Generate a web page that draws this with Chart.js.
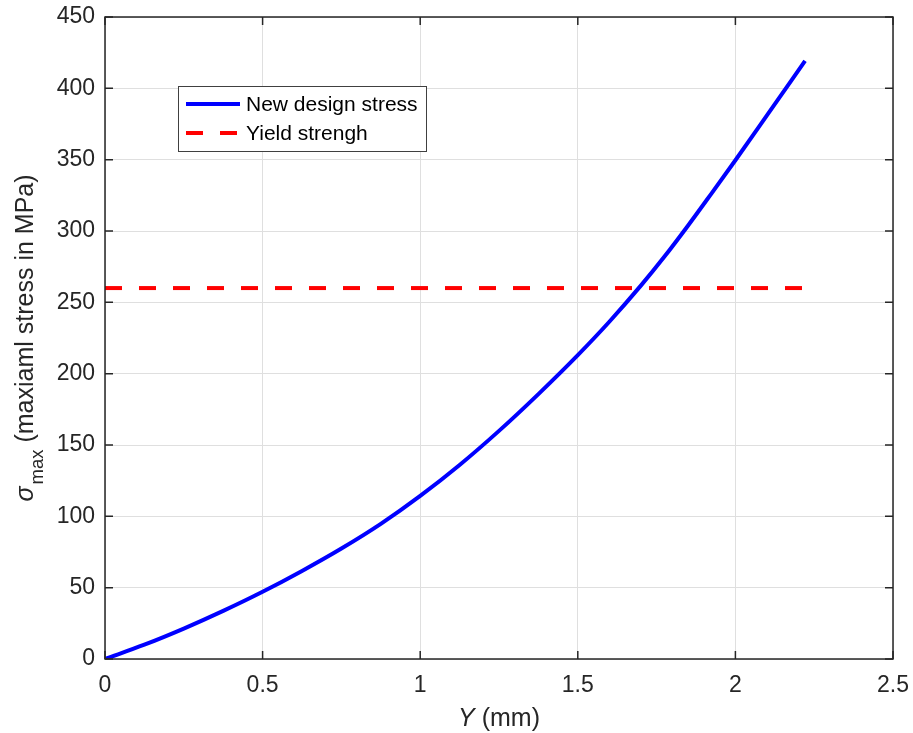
<!DOCTYPE html>
<html>
<head>
<meta charset="utf-8">
<script src="https://cdn.jsdelivr.net/npm/chart.js@4.4.1/dist/chart.umd.min.js"></script>
<style>
  html, body { margin: 0; padding: 0; background: #ffffff; }
  canvas { display: block; }
</style>
</head>
<body>
<canvas id="c" width="913" height="733"></canvas>
<script>
// ---- data ----
const deflectionMm = [0, 0.125, 0.25, 0.375, 0.5, 0.625, 0.75, 0.875, 1.0, 1.125, 1.25, 1.375, 1.5, 1.6, 1.7, 1.775, 1.85, 1.925, 2.0, 2.1, 2.221];
const stressMPa    = [0, 10, 21.3, 33.7, 47.1, 61.7, 77.4, 94.7, 114.3, 136, 159.9, 185.7, 213, 236.4, 261.7, 282.1, 303.9, 326.6, 349.6, 381, 419.2];
const yieldX       = [0, 2.221];
const yieldMPa     = [260, 260];
const seriesLabels = ['New design stress', 'Yield strengh'];
const xTickLabels  = ['0', '0.5', '1', '1.5', '2', '2.5'];
const yTickLabels  = ['0', '50', '100', '150', '200', '250', '300', '350', '400', '450'];

const FONT = "'Liberation Sans', Arial, Helvetica, sans-serif";
const TXT = '#262626';
Chart.defaults.font.family = FONT;
Chart.defaults.color = TXT;

const toXY = (xs, ys) => xs.map((x, i) => ({ x: x, y: ys[i] }));

const decor = {
  id: 'decor',
  afterDatasetsDraw(chart) {
    const ctx = chart.ctx;
    const a = chart.chartArea;
    const xs = chart.scales.x, ys = chart.scales.y;
    ctx.save();
    // frame
    ctx.strokeStyle = TXT;
    ctx.lineWidth = 1.5;
    ctx.strokeRect(a.left, a.top, a.right - a.left, a.bottom - a.top);
    // inward ticks
    const tl = 8;
    ctx.beginPath();
    xs.ticks.forEach(t => {
      const p = xs.getPixelForValue(t.value);
      ctx.moveTo(p, a.bottom); ctx.lineTo(p, a.bottom - tl);
      ctx.moveTo(p, a.top); ctx.lineTo(p, a.top + tl);
    });
    ys.ticks.forEach(t => {
      const p = ys.getPixelForValue(t.value);
      ctx.moveTo(a.left, p); ctx.lineTo(a.left + tl, p);
      ctx.moveTo(a.right, p); ctx.lineTo(a.right - tl, p);
    });
    ctx.stroke();

    // legend
    const lx = a.left + 73, ly = a.top + 69, lw = 248, lh = 65;
    ctx.fillStyle = '#ffffff';
    ctx.fillRect(lx, ly, lw, lh);
    ctx.strokeStyle = '#404040';
    ctx.lineWidth = 1;
    ctx.strokeRect(lx + 0.5, ly + 0.5, lw, lh);
    const ds = chart.data.datasets;
    ds.forEach((d, i) => {
      const ry = ly + 18 + i * 29;
      ctx.strokeStyle = d.borderColor;
      ctx.lineWidth = d.borderWidth;
      ctx.lineCap = 'butt';
      ctx.setLineDash(d.borderDash || []);
      ctx.beginPath();
      ctx.moveTo(lx + 8, ry); ctx.lineTo(lx + 62, ry);
      ctx.stroke();
      ctx.setLineDash([]);
      ctx.fillStyle = '#000000';
      ctx.font = '21px ' + FONT;
      ctx.textAlign = 'left';
      ctx.textBaseline = 'middle';
      ctx.fillText(d.label, lx + 68, ry + 1);
    });

    // x axis title: italic Y + " (mm)"
    ctx.fillStyle = TXT;
    ctx.textBaseline = 'alphabetic';
    ctx.textAlign = 'left';
    const f1 = 'italic 25px ' + FONT, f2 = '25px ' + FONT;
    ctx.font = f1; const wY = ctx.measureText('Y').width;
    ctx.font = f2; const wR = ctx.measureText(' (mm)').width;
    const cx = (a.left + a.right) / 2;
    const sx = cx - (wY + wR) / 2;
    ctx.font = f1; ctx.fillText('Y', sx, 726);
    ctx.font = f2; ctx.fillText(' (mm)', sx + wY, 726);

    // y axis title: sigma_max (maxiaml stress in MPa)
    const fs = 'italic 25px ' + FONT, fsub = '18.5px ' + FONT, fm = '25px ' + FONT;
    ctx.font = fs; const w1 = ctx.measureText('\u03C3').width;
    ctx.font = fsub; const w2 = ctx.measureText('max').width;
    ctx.font = fm; const w3 = ctx.measureText(' (maxiaml stress in MPa)').width;
    const tot = w1 + 2 + w2 + w3;
    ctx.translate(33, (a.top + a.bottom) / 2);
    ctx.rotate(-Math.PI / 2);
    let px = -tot / 2;
    ctx.font = fs; ctx.fillText('\u03C3', px, 0); px += w1 + 2;
    ctx.font = fsub; ctx.fillText('max', px, 10); px += w2;
    ctx.font = fm; ctx.fillText(' (maxiaml stress in MPa)', px, 0);
    ctx.restore();
  }
};

new Chart(document.getElementById('c'), {
  type: 'line',
  data: {
    datasets: [
      {
        label: seriesLabels[0],
        data: toXY(deflectionMm, stressMPa),
        borderColor: '#0000ff',
        borderWidth: 4,
        pointRadius: 0,
        fill: false,
        cubicInterpolationMode: 'monotone'
      },
      {
        label: seriesLabels[1],
        data: toXY(yieldX, yieldMPa),
        borderColor: '#ff0000',
        borderWidth: 4,
        borderDash: [17, 17],
        borderCapStyle: 'butt',
        pointRadius: 0,
        fill: false
      }
    ]
  },
  options: {
    responsive: false,
    animation: false,
    events: [],
    layout: { padding: { left: 0, right: 20, top: 17, bottom: 0 } },
    plugins: { legend: { display: false }, tooltip: { enabled: false }, title: { display: false } },
    scales: {
      x: {
        type: 'linear',
        min: 0, max: 2.5,
        grid: { color: '#dfdfdf', lineWidth: 1, drawTicks: false },
        border: { display: false },
        ticks: {
          stepSize: 0.5,
          padding: 13,
          maxRotation: 0,
          color: TXT,
          font: { size: 23, family: FONT },
          callback: (v, i) => xTickLabels[i]
        },
        afterFit: (s) => { s.height = 74; s.paddingLeft = 0; s.paddingRight = 0; }
      },
      y: {
        type: 'linear',
        min: 0, max: 450,
        grid: { color: '#dfdfdf', lineWidth: 1, drawTicks: false },
        border: { display: false },
        ticks: {
          stepSize: 50,
          padding: 10,
          color: TXT,
          font: { size: 23, family: FONT },
          callback: (v, i) => yTickLabels[i]
        },
        afterFit: (s) => { s.width = 105; s.paddingTop = 0; s.paddingBottom = 0; }
      }
    }
  },
  plugins: [decor]
});
</script>
</body>
</html>
